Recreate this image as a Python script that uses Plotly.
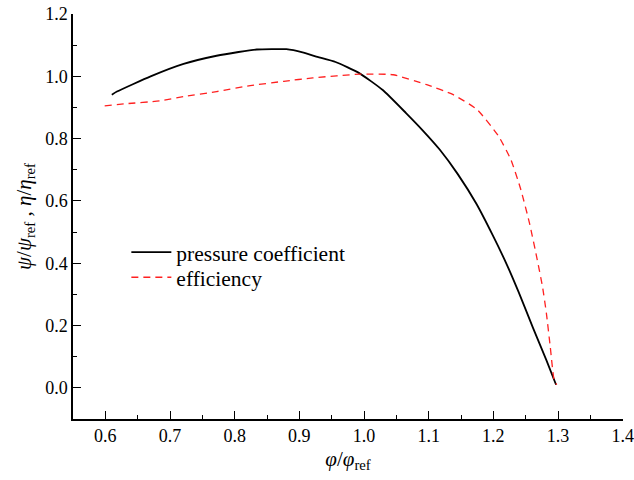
import plotly.graph_objects as go

# pressure coefficient
phi_p = [0.610, 0.618, 0.670, 0.721, 0.772, 0.806, 0.834, 0.880, 0.905, 0.925, 0.956, 0.992,
         1.029, 1.065, 1.091, 1.117, 1.145, 1.174, 1.199, 1.221, 1.239, 1.261, 1.282, 1.297]
psi = [0.941, 0.951, 1.000, 1.040, 1.066, 1.078, 1.086, 1.087, 1.077, 1.064, 1.046, 1.011,
       0.956, 0.882, 0.826, 0.765, 0.686, 0.590, 0.490, 0.395, 0.308, 0.194, 0.089, 0.010]

# efficiency
phi_e = [0.599, 0.632, 0.684, 0.721, 0.772, 0.824, 0.876, 0.921, 0.994, 1.045, 1.097, 1.138,
         1.175, 1.208, 1.227, 1.242, 1.256, 1.268, 1.276, 1.282, 1.288, 1.294, 1.298]
eta = [0.905, 0.912, 0.921, 0.935, 0.951, 0.970, 0.984, 0.995, 1.007, 1.005, 0.973, 0.941,
       0.893, 0.808, 0.733, 0.640, 0.528, 0.410, 0.325, 0.240, 0.132, 0.025, 0.010]

x_ticks = [0.6, 0.7, 0.8, 0.9, 1.0, 1.1, 1.2, 1.3, 1.4]
y_ticks = [0.0, 0.2, 0.4, 0.6, 0.8, 1.0, 1.2]

font = "Liberation Serif, Times New Roman, serif"

fig = go.Figure()
fig.add_trace(go.Scatter(x=phi_p, y=psi, mode="lines", name="pressure coefficient", legend="legend",
                         line=dict(color="black", width=1.8, shape="spline", smoothing=0.5)))
fig.add_trace(go.Scatter(x=phi_e, y=eta, mode="lines", name="efficiency", legend="legend2",
                         line=dict(color="#ff2020", width=1.3, dash="7px,5px", shape="spline", smoothing=0.5)))

leg_common = dict(x=0.097, xanchor="left", yanchor="middle", bgcolor="rgba(0,0,0,0)",
                  font=dict(size=21.5, family=font), itemwidth=40)

fig.update_layout(
    width=634, height=480,
    margin=dict(l=73, r=11, t=14, b=61),
    paper_bgcolor="white", plot_bgcolor="white",
    font=dict(family=font, size=18, color="black"),
    showlegend=True,
    legend=dict(y=0.412, **leg_common),
    legend2=dict(y=0.350, **leg_common),
    xaxis=dict(range=[0.55, 1.4005], tickvals=x_ticks, ticktext=[f"{v:.1f}" for v in x_ticks],
               ticks="inside", ticklen=8, tickwidth=1.2, tickcolor="black", ticklabeloverflow="allow",
               tickfont=dict(size=18, family=font), automargin=False,
               minor=dict(ticks="inside", dtick=0.05, tick0=0.55, ticklen=4, tickwidth=1.2, tickcolor="black"),
               showline=True, linecolor="black", linewidth=1.5, showgrid=False, zeroline=False,
               title=dict(text="<i>φ</i>/<i>φ</i><sub>ref</sub>", font=dict(size=21, family=font), standoff=6)),
    yaxis=dict(range=[-0.1, 1.2], tickvals=y_ticks, ticktext=[f"{v:.1f}" for v in y_ticks],
               ticks="inside", ticklen=8, tickwidth=1.2, tickcolor="black",
               tickfont=dict(size=18, family=font), automargin=False,
               minor=dict(ticks="inside", dtick=0.1, tick0=-0.1, ticklen=4, tickwidth=1.2, tickcolor="black"),
               showline=True, linecolor="black", linewidth=1.5, showgrid=False, zeroline=False,
               title=dict(text="<i>ψ</i>/<i>ψ</i><sub>ref</sub> , <i>η</i>/<i>η</i><sub>ref</sub>",
                          font=dict(size=21, family=font), standoff=8)),
)

fig.write_html("out.html", config={"displayModeBar": False},
               post_script="document.body.style.margin='0';document.body.style.padding='0';")
